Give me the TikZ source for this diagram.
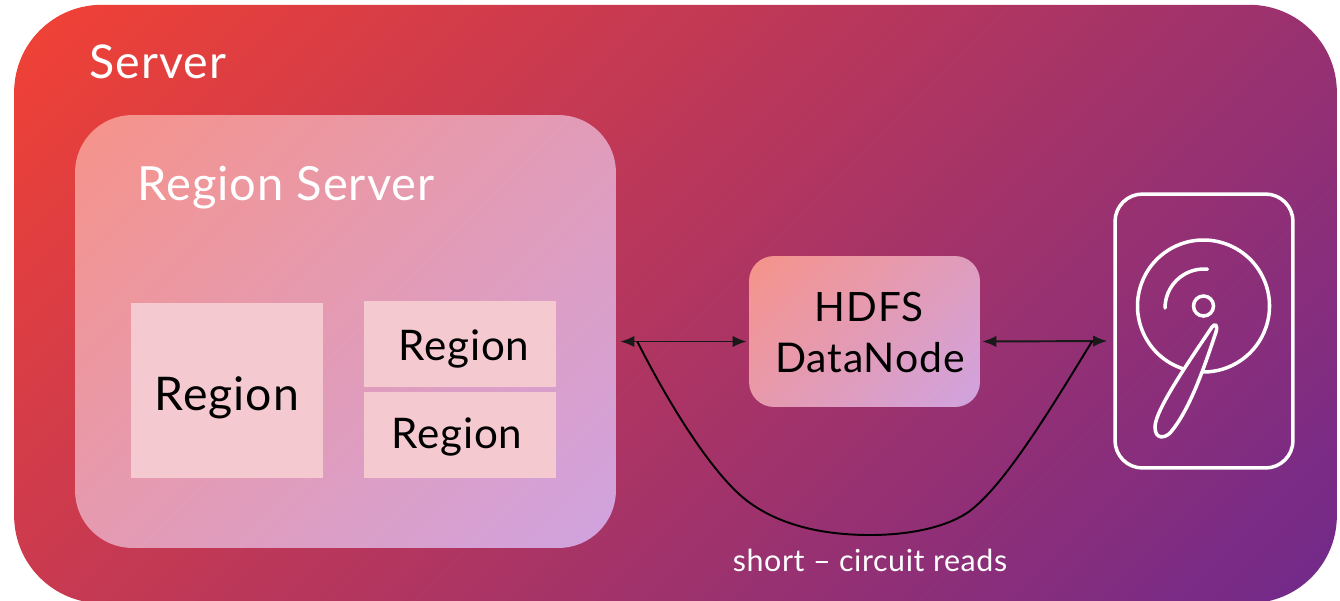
\documentclass[tikz,border=0pt]{standalone}
\usepackage{fontspec}
\setmainfont{Lato}[LetterSpace=2]
\usetikzlibrary{arrows.meta}
\definecolor{serverred}{HTML}{EF4136}
\definecolor{serverpurple}{HTML}{732A8A}
\definecolor{boxpink}{HTML}{F6938A}
\definecolor{boxlilac}{HTML}{D0A3E0}
\definecolor{regionpink}{HTML}{F4C9D0}
\pgfdeclarehorizontalshading{servershade}{100bp}{color(0bp)=(serverred); color(16bp)=(serverred); color(84bp)=(serverpurple); color(100bp)=(serverpurple)}
\pgfdeclarehorizontalshading{boxshade}{100bp}{color(0bp)=(boxpink); color(15bp)=(boxpink); color(85bp)=(boxlilac); color(100bp)=(boxlilac)}
\tikzset{
  boxtext/.style={inner sep=0pt,anchor=base,font=\fontsize{#1}{#1}\selectfont},
  regionbox/.style={fill=regionpink,inner sep=0pt,minimum width=3.84cm},
  biarrow/.style={{Latex[length=8pt,width=6.5pt]}-{Latex[length=8pt,width=6.5pt]},line width=1.1pt,black!90},
}
\begin{document}
\begin{tikzpicture}[x=0.02cm,y=-0.02cm]
  \useasboundingbox (0,0) rectangle (1340,600);
  \clip (0,0) rectangle (1340,600);
  % Server
  \node[shade,shading=servershade,shading angle=-45,rounded corners=1.75cm,inner sep=0pt,minimum width=26.46cm,minimum height=11.97cm] (server) at (675.5,304) {};
  \node[boxtext=26.5,white] (servertext) at (158,78) {Server};
  % Region Server
  \node[shade,shading=boxshade,shading angle=-45,rounded corners=1.15cm,inner sep=0pt,minimum width=10.82cm,minimum height=8.66cm] (regionserver) at (345.5,331.5) {};
  \node[boxtext=26.8,white] (regionservertext) at (286,200) {Region Server};
  % Regions
  \node[regionbox,minimum height=3.5cm] (regionA) at (227,390.5) {};
  \node[regionbox,minimum height=1.72cm] (regionB) at (460,344) {};
  \node[regionbox,minimum height=1.72cm] (regionC) at (460,435) {};
  \node[boxtext=26.4] (regionAtext) at (227,410) {Region};
  \node[boxtext=24] (regionBtext) at (464,360) {Region};
  \node[boxtext=24] (regionCtext) at (457,448) {Region};
  % DataNode
  \node[shade,shading=boxshade,shading angle=-45,rounded corners=0.5cm,inner sep=0pt,minimum width=4.62cm,minimum height=3.02cm] (datanode) at (864.5,331.5) {};
  \node[boxtext=23] (hdfstext) at (869,321) {HDFS};
  \node[boxtext=23.3] (datanodetext) at (870,372) {DataNode};
  % Disk
  \node[draw=white,line width=2pt,rounded corners=0.55cm,inner sep=0pt,minimum width=3.56cm,minimum height=5.48cm] (disk) at (1204,331) {};
  \begin{scope}[white,line width=2pt,line cap=round]
    \draw (1203.5,306) ++(108.6:66) arc[start angle=108.6,end angle=451,radius=66];
    \draw (1203.5,306) circle[radius=10];
    \draw (1165,308) arc[start angle=180,end angle=275,radius=39];
    \draw (1212,327) .. controls (1190,360) and (1155,410) .. (1155,427)
      .. controls (1155,440) and (1165,438) .. (1170,433)
      .. controls (1190,410) and (1205,365) .. (1216,332)
      .. controls (1218,325) and (1215,323) .. (1212,327);
  \end{scope}
  % Arrows
  \coordinate (rsport) at ([shift={(4,10)}]regionserver.east);
  \coordinate (dnleft) at ([shift={(-2,10)}]datanode.west);
  \coordinate (dnright) at ([shift={(2,10)}]datanode.east);
  \coordinate (diskport) at ([shift={(-6,10)}]disk.west);
  \draw[biarrow] (rsport) -- (dnleft);
  \draw[biarrow] (dnright) -- (diskport);
  % Short circuit
  \coordinate (readleft) at ([shift={(17,0)}]rsport);
  \coordinate (readright) at ([shift={(-15,0)}]diskport);
  \draw[line width=1.1pt,black] (readleft) .. controls (672,410) and (716,479) .. (750,503)
    .. controls (785,528) and (830,535) .. (870,535)
    .. controls (905,535) and (942,529) .. (967,513)
    .. controls (1003,488) and (1050,410) .. (readright);
  \node[boxtext=17.3,white] (readstext) at (870,571) {short – circuit reads};
\end{tikzpicture}
\end{document}
